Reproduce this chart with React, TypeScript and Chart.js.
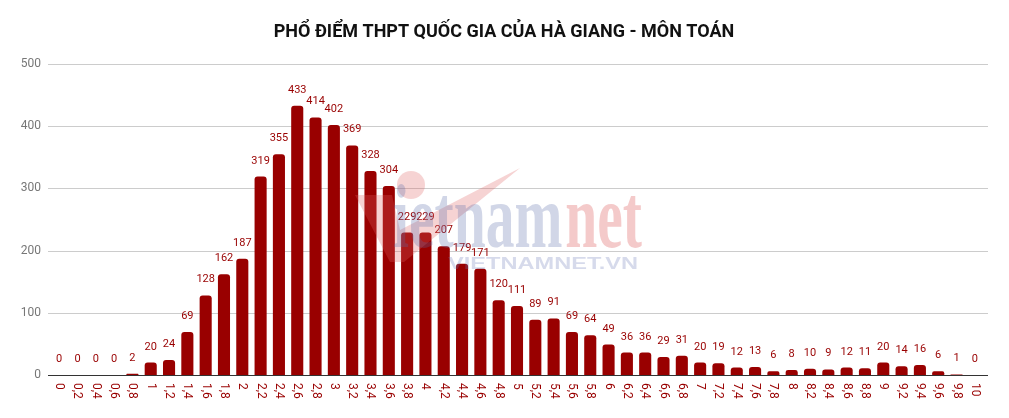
import React, { useEffect, useRef } from "react";
import { Chart, registerables } from "chart.js";

Chart.register(...registerables);

const TITLE = "PHỔ ĐIỂM THPT QUỐC GIA CỦA HÀ GIANG - MÔN TOÁN";

const categories: string[] = [
  "0", "0,2", "0,4", "0,6", "0,8", "1", "1,2", "1,4", "1,6", "1,8",
  "2", "2,2", "2,4", "2,6", "2,8", "3", "3,2", "3,4", "3,6", "3,8",
  "4", "4,2", "4,4", "4,6", "4,8", "5", "5,2", "5,4", "5,6", "5,8",
  "6", "6,2", "6,4", "6,6", "6,8", "7", "7,2", "7,4", "7,6", "7,8",
  "8", "8,2", "8,4", "8,6", "8,8", "9", "9,2", "9,4", "9,6", "9,8", "10",
];

const counts: number[] = [
  0, 0, 0, 0, 2, 20, 24, 69, 128, 162,
  187, 319, 355, 433, 414, 402, 369, 328, 304, 229,
  229, 207, 179, 171, 120, 111, 89, 91, 69, 64,
  49, 36, 36, 29, 31, 20, 19, 12, 13, 6,
  8, 10, 9, 12, 11, 20, 14, 16, 6, 1, 0,
];

const yTicks: number[] = [0, 100, 200, 300, 400, 500];

const RED = "#990000";

const overlayPlugin = {
  id: "overlay",
  beforeDatasetsDraw(chart: any) {
    const { ctx, scales } = chart;
    const y = scales.y;
    ctx.save();
    ctx.strokeStyle = "#cccccc";
    ctx.lineWidth = 1;
    yTicks.forEach((v) => {
      if (v === 0) return;
      const py = Math.round(y.getPixelForValue(v)) + 0.5;
      ctx.beginPath();
      ctx.moveTo(48, py);
      ctx.lineTo(988, py);
      ctx.stroke();
    });
    ctx.restore();
  },
  afterDatasetsDraw(chart: any) {
    const { ctx, scales } = chart;
    const x = scales.x;
    const y = scales.y;
    ctx.save();
    const y0 = Math.round(y.getPixelForValue(0)) + 0.5;
    ctx.strokeStyle = "#333333";
    ctx.lineWidth = 1;
    ctx.beginPath();
    ctx.moveTo(48, y0);
    ctx.lineTo(988, y0);
    ctx.stroke();

    ctx.fillStyle = "#777777";
    ctx.font = "12px Roboto";
    ctx.textAlign = "right";
    ctx.textBaseline = "middle";
    yTicks.forEach((v) => {
      ctx.fillText(String(v), 41, y.getPixelForValue(v));
    });

    ctx.fillStyle = RED;
    ctx.font = "12px Roboto";
    categories.forEach((c, i) => {
      const px = x.getPixelForValue(i);
      ctx.save();
      ctx.translate(px, y0 + 7.5);
      ctx.rotate(Math.PI / 2);
      ctx.textAlign = "left";
      ctx.textBaseline = "middle";
      ctx.fillText(c, 0, 0);
      ctx.restore();
    });

    ctx.fillStyle = RED;
    ctx.font = "11px Roboto";
    ctx.textAlign = "center";
    ctx.textBaseline = "alphabetic";
    counts.forEach((v, i) => {
      const px = x.getPixelForValue(i);
      const py = y.getPixelForValue(v);
      ctx.fillText(String(v), px, py - 13);
    });

    ctx.fillStyle = "#111111";
    ctx.font = "bold 18px Roboto";
    ctx.textAlign = "center";
    ctx.textBaseline = "middle";
    ctx.fillText(TITLE, 504, 32);

    // watermark
    ctx.globalAlpha = 0.28;
    ctx.fillStyle = "#e06060";
    ctx.beginPath();
    ctx.arc(411, 185, 14, 0, Math.PI * 2);
    ctx.fill();
    ctx.beginPath();
    ctx.moveTo(355, 195);
    ctx.lineTo(392, 195);
    ctx.lineTo(400, 230);
    ctx.lineTo(520, 168);
    ctx.lineTo(404, 262);
    ctx.lineTo(390, 262);
    ctx.closePath();
    ctx.fill();
    ctx.save();
    ctx.translate(393, 247);
    ctx.scale(0.64, 1);
    ctx.font = "bold 90px 'Liberation Serif'";
    ctx.textAlign = "left";
    ctx.textBaseline = "alphabetic";
    ctx.fillStyle = "#5a6aa8";
    ctx.fillText("ietnam", 0, 0);
    const w = ctx.measureText("ietnam").width;
    ctx.fillStyle = "#d84040";
    ctx.fillText("net", w + 4, 0);
    ctx.restore();
    ctx.save();
    ctx.font = "bold 16px 'Liberation Sans'";
    const ww = ctx.measureText("VIETNAMNET.VN").width;
    ctx.translate(448, 269);
    ctx.scale(190 / ww, 1);
    ctx.fillStyle = "#6a7ab8";
    ctx.textAlign = "left";
    ctx.textBaseline = "alphabetic";
    ctx.fillText("VIETNAMNET.VN", 0, 0);
    ctx.restore();
    ctx.restore();
  },
};

export default function App() {
  const ref = useRef<HTMLCanvasElement | null>(null);
  useEffect(() => {
    if (!ref.current) return;
    const chart = new Chart(ref.current, {
      type: "bar",
      data: {
        labels: categories,
        datasets: [
          {
            data: counts,
            backgroundColor: RED,
            borderRadius: { topLeft: 3, topRight: 3, bottomLeft: 0, bottomRight: 0 },
            borderSkipped: false,
            categoryPercentage: 1,
            barPercentage: 0.66,
          },
        ],
      },
      options: {
        animation: false,
        responsive: true,
        maintainAspectRatio: false,
        layout: { padding: { top: 64, right: 25, left: 0, bottom: 0 } },
        plugins: {
          legend: { display: false },
          tooltip: { enabled: false },
          title: { display: false },
        },
        scales: {
          x: {
            ticks: { display: false },
            grid: { display: false },
            border: { display: false },
            afterFit: (s: any) => {
              s.height = 43;
            },
          },
          y: {
            min: 0,
            max: 500,
            ticks: { display: false, stepSize: 100 },
            grid: { display: false },
            border: { display: false },
            afterFit: (s: any) => {
              s.width = 50;
            },
          },
        },
      },
      plugins: [overlayPlugin],
    });
    return () => chart.destroy();
  }, []);
  return (
    <div style={{ position: "fixed", left: 0, top: 0, width: 1009, height: 418, background: "#fff" }}>
      <canvas ref={ref} />
    </div>
  );
}
